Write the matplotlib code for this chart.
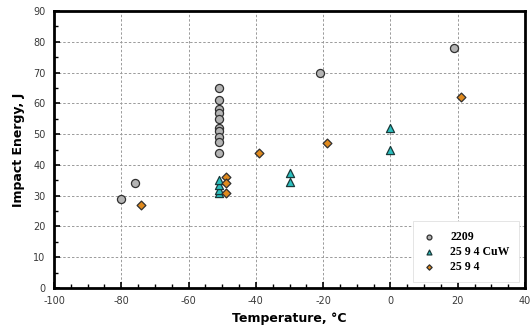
import matplotlib
matplotlib.use("Agg")
import matplotlib.pyplot as plt
from matplotlib.ticker import MultipleLocator

plt.rcParams['axes.unicode_minus'] = False

# Data
t_2209 = [-80, -76, -51, -51, -51, -51, -51, -51, -51, -51, -51, -51, -21, 19]
e_2209 = [29, 34, 65, 61, 58, 57, 55, 52, 51, 49, 47.5, 44, 70, 78]
t_cuw = [-51, -51, -51, -51, -30, -30, 0, 0]
e_cuw = [31, 32, 33.5, 35, 37.5, 34.5, 52, 45]
t_594 = [-74, -49, -49, -49, -39, -19, 21]
e_594 = [27, 36, 34, 31, 44, 47, 62]
labels = ["2209", "25 9 4 CuW", "25 9 4"]

fig = plt.figure(figsize=(5.31, 3.27), dpi=100)
ax = fig.add_axes([54/531, 1 - 288/327, (525-54)/531, (288-11)/327])

ax.scatter(t_2209, e_2209, marker='o', s=34, facecolor='#b4b4b4', edgecolor='#303030', linewidth=0.9, zorder=3, label=labels[0])
ax.scatter(t_cuw, e_cuw, marker='^', s=34, facecolor='#2cc0c0', edgecolor='#1a3a3a', linewidth=0.9, zorder=3, label=labels[1])
ax.scatter(t_594, e_594, marker='D', s=20, facecolor='#e08a1e', edgecolor='#303030', linewidth=0.9, zorder=3, label=labels[2])

ax.set_xlim(-100, 40)
ax.set_ylim(0, 90)
ax.xaxis.set_major_locator(MultipleLocator(20))
ax.xaxis.set_minor_locator(MultipleLocator(5))
ax.yaxis.set_major_locator(MultipleLocator(10))
ax.yaxis.set_minor_locator(MultipleLocator(5))
ax.grid(True, which='major', linestyle=(0, (2.5, 2)), color='#9a9a9a', linewidth=0.7)
ax.tick_params(which='both', direction='in', color='black')
ax.tick_params(which='major', length=4, width=1.2, labelsize=7, labelcolor='#3a3a3a', pad=6)
ax.tick_params(which='minor', length=3, width=1.0)
for lab in ax.get_xticklabels() + ax.get_yticklabels():
    lab.set_fontfamily('DejaVu Sans')
for sp in ax.spines.values():
    sp.set_linewidth(2)
    sp.set_color('black')

ax.set_xlabel('Temperature, °C', fontsize=9, fontweight='bold', labelpad=4)
ax.set_ylabel('Impact Energy, J', fontsize=9, fontweight='bold', labelpad=6)

leg = ax.legend(loc='lower right', bbox_to_anchor=(1.0, 0.0), frameon=True, fancybox=False,
                prop={'family': 'Liberation Serif', 'weight': 'bold', 'size': 8.5},
                handletextpad=1.2, labelspacing=0.25, borderpad=0.8, markerscale=0.6,
                handlelength=1.2, edgecolor='#e0e0e0', framealpha=1.0)
leg.get_frame().set_linewidth(0.6)

fig.savefig('out.png', dpi=100)
